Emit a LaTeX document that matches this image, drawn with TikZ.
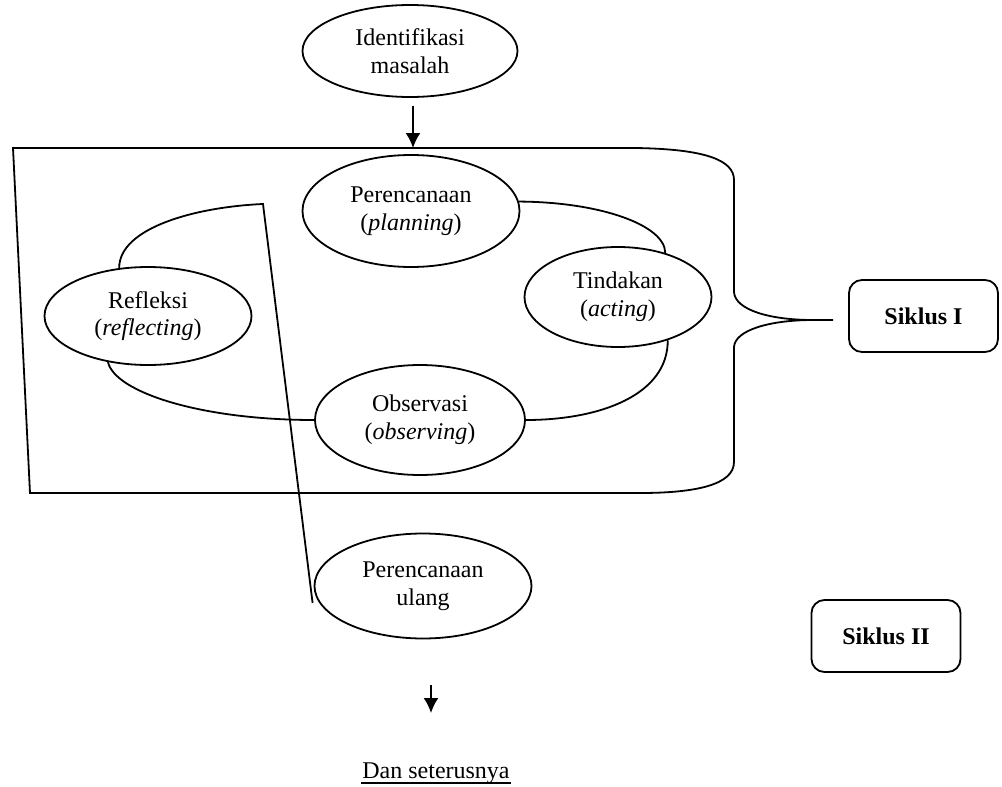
\documentclass[tikz,border=0pt]{standalone}
\usepackage{fontspec}
\setmainfont{Liberation Serif}
\usepackage{tikz}
\usetikzlibrary{shapes,arrows.meta,positioning,calc}

\begin{document}
\begin{tikzpicture}[x=0.5pt,y=-0.5pt,
    font=\fontsize{12}{13.8}\selectfont,
    line width=0.9pt,
    stage/.style={ellipse, draw, align=center, inner sep=1pt},
    cyclebox/.style={draw, rounded corners=6.5pt, minimum width=74.5pt, minimum height=36pt, font=\fontsize{12}{13.8}\selectfont\bfseries},
    arr/.style={-{Latex[length=7.5pt,width=7.5pt]}}]
    \useasboundingbox (0,0) rectangle (1002,787);

    % Stages
    \node[stage, minimum width=107.5pt, minimum height=46pt] (ident) at (410,51) {Identifikasi\\masalah};
    \node[stage, minimum width=108.5pt, minimum height=56pt] (plan) at (411,211) {Perencanaan\\(\textit{planning})};
    \node[stage, minimum width=93.5pt, minimum height=50pt] (act) at (618,297) {Tindakan\\(\textit{acting})};
    \node[stage, minimum width=105pt, minimum height=55pt] (obs) at (420,420) {Observasi\\(\textit{observing})};
    \node[stage, minimum width=103.5pt, minimum height=49pt] (refl) at (148,316) {Refleksi\\(\textit{reflecting})};
    \node[stage, minimum width=108.5pt, minimum height=52.5pt] (ulang) at (423,586) {Perencanaan\\ulang};

    % Cycles
    \node[cyclebox] (siklus1) at (923.5,316) {Siklus I};
    \node[cyclebox] (siklus2) at (886,636) {Siklus II};

    % Bracket round the first cycle
    \draw (833,320) -- (813,320) .. controls (770,320) and (735,330) .. (734,347)
        -- (734,462) .. controls (734,485) and (695,493) .. (640,493)
        -- (30,493) -- (13,148) -- (635,148)
        .. controls (705,149) and (734,160) .. (734,180)
        -- (734,292) .. controls (735,310) and (770,320) .. (813,320);

    % Cycle connectors
    \draw (plan.5) .. controls (600,202) and (665,225) .. (act.43);
    \draw (act.-41) .. controls (668,395) and (600,420) .. (obs.east);
    \draw (obs.west) .. controls (200,420) and (115,392) .. (refl.229);
    \coordinate (bend) at (263,204);
    \draw (refl.121) .. controls (119,228) and (195,207) .. (bend) -- ($(ulang.west)+(-1,17)$);

    % Arrows
    \coordinate (in) at (413,106);
    \coordinate (cyc) at (413,148);
    \draw[arr] (in) -- (cyc);
    \coordinate (out) at (431,685);
    \coordinate (outend) at (431,713);
    \draw[arr] (out) -- (outend);

    \node[anchor=base, inner sep=0pt] (next) at (436,778) {Dan seterusnya};
    \draw[line width=0.7pt] ([yshift=-2.5pt]next.base west) -- ([yshift=-2.5pt]next.base east);
\end{tikzpicture}
\end{document}
